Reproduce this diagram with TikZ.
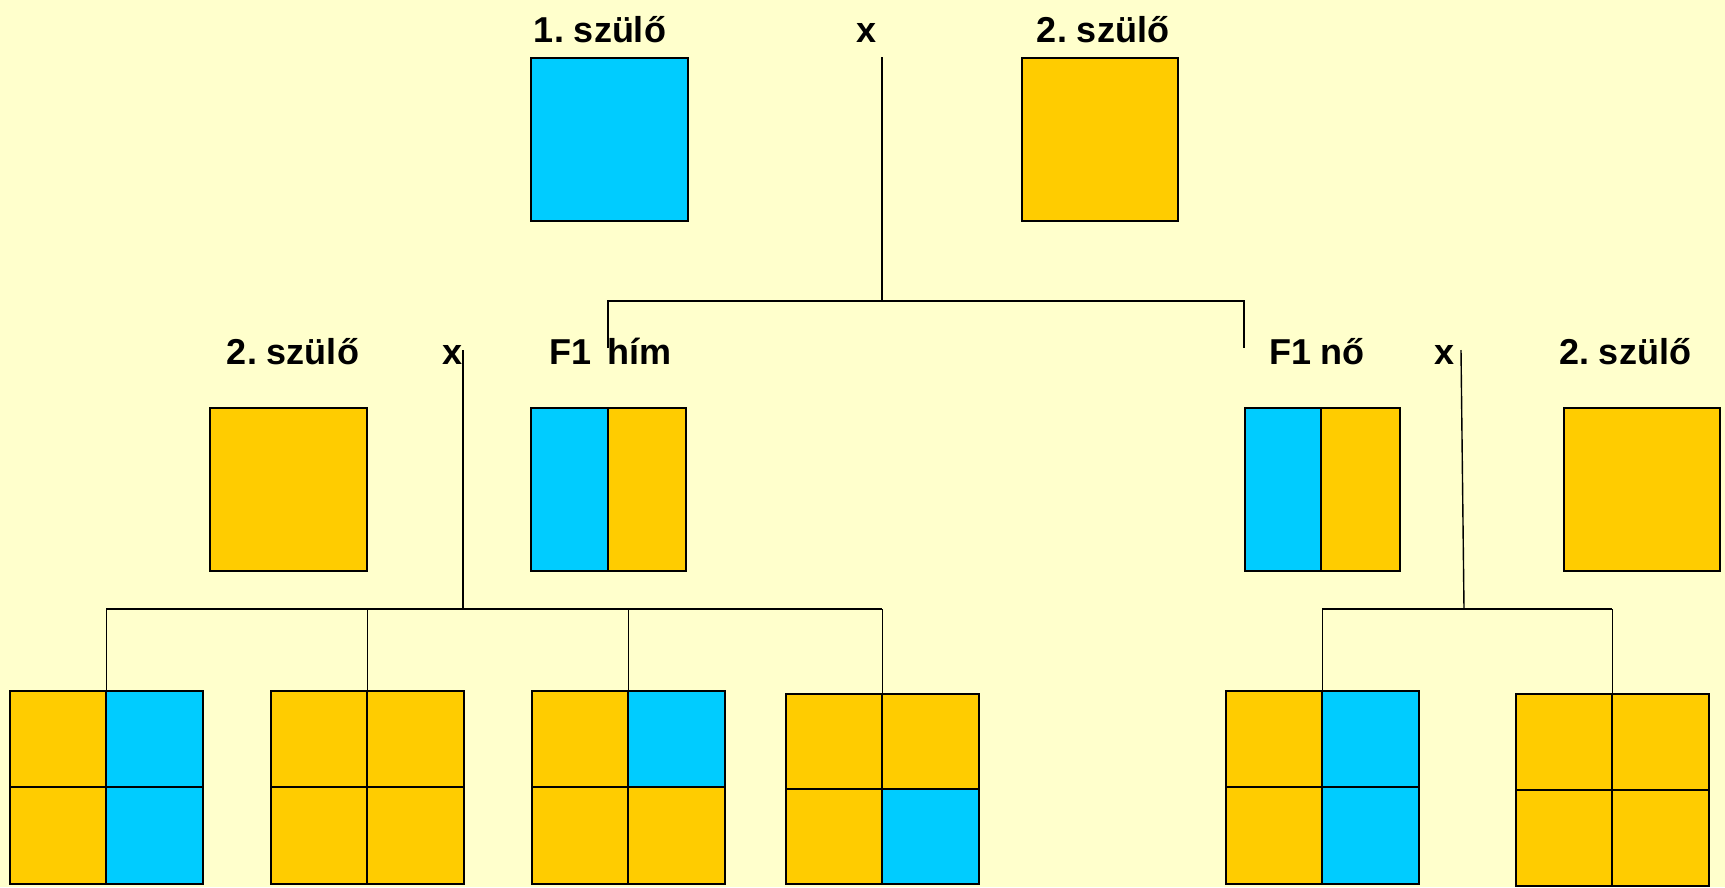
\documentclass[tikz,border=0pt]{standalone}
\usepackage{fontspec}
\setmainfont{Liberation Sans}
\frenchspacing
\definecolor{bg}{HTML}{FFFFCC}
\definecolor{bl}{HTML}{00CCFF}
\definecolor{or}{HTML}{FFCC00}
\begin{document}
\begin{tikzpicture}[x=1pt,y=-1pt,
  lbl/.style={font=\bfseries\fontsize{36}{40}\selectfont, anchor=base, inner sep=0pt},
  box/.style={draw=black, line width=1.6pt, anchor=north west, inner sep=0pt, minimum width=#1},
  conn/.style={line width=1.4pt}]
\fill[bg] (0,0) rectangle (1725,887);
\useasboundingbox (0,0) rectangle (1725,887);

% ---- labels
\node[lbl] (t1) at (600,42) {1. szülő};
\node[lbl] (tx) at (867,42) {x};
\node[lbl] (t2) at (1103,42) {2. szülő};
\node[lbl] (m1) at (293,364) {2. szülő};
\node[lbl] (mx1) at (453,364) {x};
\node[lbl] (m2) at (611,364) {F1\hspace{16pt}hím};
\node[lbl] (m3) at (1317,364) {F1 nő};
\node[lbl] (mx2) at (1444,364) {x};
\node[lbl] (m4) at (1625,364) {2. szülő};

% ---- top parents
\node[box=157pt, minimum height=163pt, fill=bl] (p1) at (530,57) {};
\node[box=156pt, minimum height=163pt, fill=or] (p2) at (1021,57) {};

% ---- middle row
\node[box=157pt, minimum height=163pt, fill=or] (q1) at (209,407) {};
\node[box=155pt, minimum height=163pt] (h) at (530,407) {};
\fill[bl] (h.north west) rectangle ([xshift=78pt]h.south west);
\fill[or] ([xshift=78pt]h.north west) rectangle (h.south east);
\node[box=155pt, minimum height=163pt] (h) at (530,407) {};
\draw[conn] ([xshift=78pt]h.north west) -- ([xshift=78pt]h.south west);

\node[box=155pt, minimum height=163pt] (n) at (1244,407) {};
\fill[bl] (n.north west) rectangle ([xshift=77pt]n.south west);
\fill[or] ([xshift=77pt]n.north west) rectangle (n.south east);
\node[box=155pt, minimum height=163pt] (n) at (1244,407) {};
\draw[conn] ([xshift=77pt]n.north west) -- ([xshift=77pt]n.south west);

\node[box=156pt, minimum height=163pt, fill=or] (q2) at (1563,407) {};

% ---- quad boxes: name, x, y, height, TL, TR, BL, BR
\newcommand{\quadbox}[8]{%
  \node[box=193pt, minimum height=#4] (#1) at (#2,#3) {};
  \fill[#5] (#1.north west) rectangle (#1.center);
  \fill[#6] (#1.north) rectangle (#1.east);
  \fill[#7] (#1.west) rectangle (#1.south);
  \fill[#8] (#1.center) rectangle (#1.south east);
  \node[box=193pt, minimum height=#4] at (#2,#3) {};
  \draw[line width=1.8pt] (#1.north) -- (#1.south) (#1.west) -- (#1.east);
}
\quadbox{b1}{9}{690}{193pt}{or}{bl}{or}{bl}
\quadbox{b2}{270}{690}{193pt}{or}{or}{or}{or}
\quadbox{b3}{531}{690}{193pt}{or}{bl}{or}{or}
\quadbox{b4}{785}{693}{190pt}{or}{or}{or}{bl}
\quadbox{b5}{1225}{690}{193pt}{or}{bl}{or}{bl}
\quadbox{b6}{1515}{693}{192pt}{or}{or}{or}{or}

% ---- connectors
\coordinate (c1) at (882,57);
\coordinate (c2) at (882,301);
\coordinate (hl) at (608,301);
\coordinate (hr) at (1244,301);
\coordinate (hle) at (608,348);
\coordinate (hre) at (1244,348);
\draw[conn] (c1) -- (c2);
\draw[conn] (hle) -- (hl) -- (hr) -- (hre);

\coordinate (l1) at (463,350);
\coordinate (l2) at (463,609);
\draw[conn] (l1) -- (l2);
\draw[conn] (b1.north |- l2) -- (b4.north |- l2);
\foreach \b in {b1,b2,b3,b4} \draw[conn] (\b.north |- l2) -- (\b.north);

\coordinate (r1) at (1461,350);
\coordinate (r2) at (1464,609);
\draw[conn] (r1) -- (r2);
\draw[conn] (b5.north |- r2) -- (b6.north |- r2);
\draw[conn] (b5.north |- r2) -- (b5.north);
\draw[conn] (b6.north |- r2) -- ([yshift=-3pt]b6.north);
\end{tikzpicture}
\end{document}
